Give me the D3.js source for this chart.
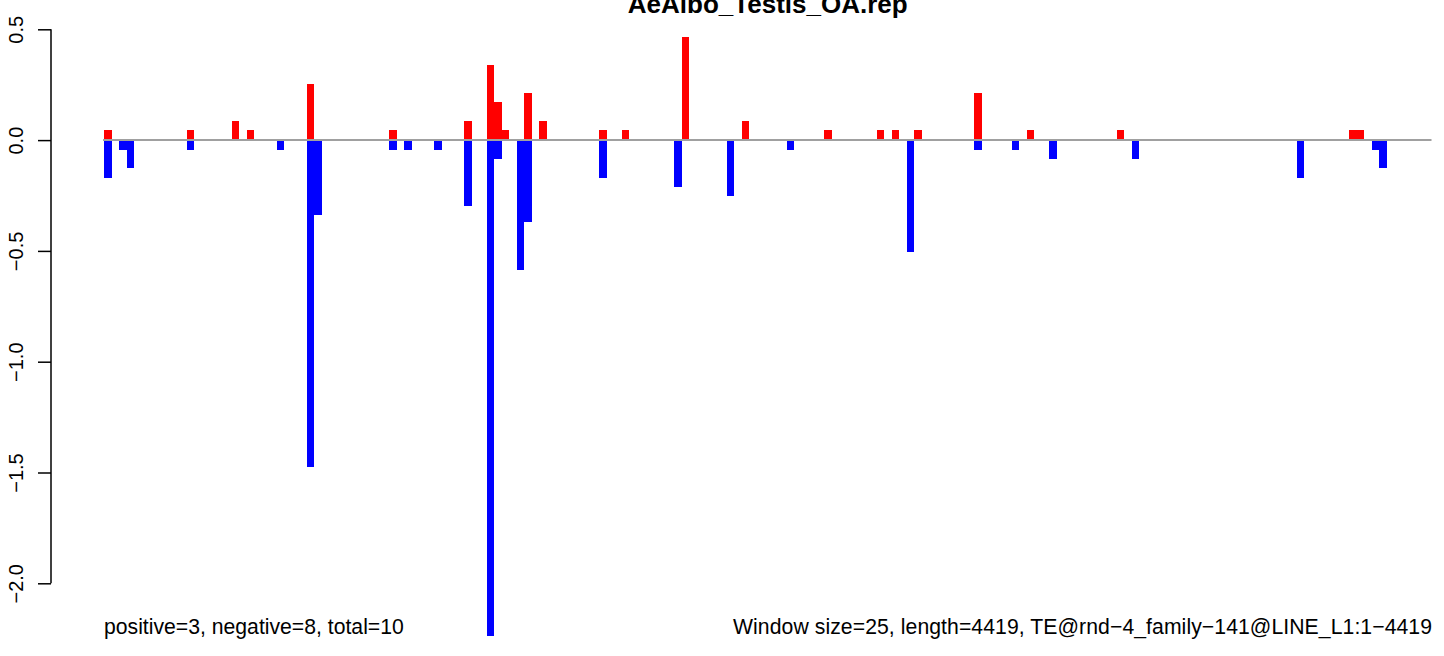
<!DOCTYPE html>
<html>
<head>
<meta charset="utf-8">
<script src="https://cdn.jsdelivr.net/npm/d3@7"></script>
<style>
  html, body { margin: 0; padding: 0; background: #fff; }
  svg { display: block; }
  text { font-family: "Liberation Sans", Arial, Helvetica, sans-serif; fill: #000; }
</style>
</head>
<body>
<svg id="chart" width="1444" height="656"></svg>
<script>
// ---- data ----
const title = "AeAlbo_Testis_OA.rep";
const windowSize = 25;
const seqLength = 4419;
const leftNote = "positive=3, negative=8, total=10";
const rightNote = "Window size=25, length=4419, TE@rnd\u22124_family\u2212141@LINE_L1:1\u22124419";

// window indices (0-based) that carry a positive (red) value
const posWindows = [0, 11, 17, 19, 27, 38, 48, 51, 52, 53, 56, 58, 66, 69, 77, 85, 96, 103, 105, 108, 116, 123, 135, 166, 167];
const posValues  = [0.045, 0.045, 0.086, 0.045, 0.253, 0.045, 0.086, 0.339, 0.172, 0.045, 0.212, 0.086, 0.045, 0.045, 0.465, 0.086, 0.045, 0.045, 0.045, 0.045, 0.212, 0.045, 0.045, 0.045, 0.045];

// window indices (0-based) that carry a negative (blue) value
const negWindows = [0, 2, 3, 11, 23, 27, 28, 38, 40, 44, 48, 51, 52, 55, 56, 66, 76, 83, 91, 107, 116, 121, 126, 137, 159, 169, 170];
const negValues  = [-0.172, -0.045, -0.126, -0.045, -0.045, -1.476, -0.339, -0.045, -0.045, -0.045, -0.296, -2.236, -0.086, -0.587, -0.370, -0.170, -0.211, -0.252, -0.045, -0.505, -0.045, -0.045, -0.086, -0.086, -0.172, -0.045, -0.126];

const yTicks = [0.5, 0.0, -0.5, -1.0, -1.5, -2.0];
const yTickLabels = ["0.5", "0.0", "\u22120.5", "\u22121.0", "\u22121.5", "\u22122.0"];

// ---- layout ----
const svg = d3.select("#chart");
const nWindows = Math.ceil(seqLength / windowSize);
const x = d3.scaleLinear().domain([0, nWindows * windowSize]).range([104, 1431.5]);
const y = d3.scaleLinear().domain([0.5, -2.0]).range([29.3, 583.3]);

const posData = posWindows.map((w, i) => ({ w, v: posValues[i] }));
const negData = negWindows.map((w, i) => ({ w, v: negValues[i] }));

svg.append("g").attr("shape-rendering", "crispEdges")
  .selectAll("rect").data(posData).join("rect")
  .attr("x", d => x(d.w * windowSize))
  .attr("width", d => x((d.w + 1) * windowSize) - x(d.w * windowSize))
  .attr("y", d => y(d.v))
  .attr("height", d => y(0) - y(d.v))
  .attr("fill", "#ff0000");

svg.append("g").attr("shape-rendering", "crispEdges")
  .selectAll("rect").data(negData).join("rect")
  .attr("x", d => x(d.w * windowSize))
  .attr("width", d => x((d.w + 1) * windowSize) - x(d.w * windowSize))
  .attr("y", y(0))
  .attr("height", d => y(d.v) - y(0))
  .attr("fill", "#0000ff");

// zero line
svg.append("line")
  .attr("x1", x(0) - 1).attr("x2", x(nWindows * windowSize))
  .attr("y1", y(0)).attr("y2", y(0))
  .attr("stroke", "#a0a0a0").attr("stroke-width", 2);

// y axis
const yAxis = d3.axisLeft(y).tickValues(yTicks).tickSize(13).tickPadding(0)
  .tickFormat((d, i) => yTickLabels[i]);
const gy = svg.append("g").attr("transform", "translate(51,0)").call(yAxis);
gy.select(".domain").attr("d", `M0,${y(0.5)}V${y(-2.0)}`).attr("stroke", "#000").attr("stroke-width", 1.5);
gy.selectAll(".tick line").attr("stroke", "#000").attr("stroke-width", 1.5);
gy.selectAll(".tick text")
  .attr("font-size", 20)
  .attr("font-family", "Liberation Sans, Arial, sans-serif")
  .attr("fill", "#000")
  .attr("text-anchor", "middle")
  .attr("dy", null)
  .attr("x", null)
  .attr("transform", "translate(-28,0) rotate(-90)");

// title
svg.append("text")
  .attr("x", (x(0) + x(nWindows * windowSize)) / 2)
  .attr("y", 13)
  .attr("text-anchor", "middle")
  .attr("font-size", 26)
  .attr("font-weight", "bold")
  .text(title);

// notes
svg.append("text")
  .attr("x", x(0))
  .attr("y", 634)
  .attr("font-size", 21.2)
  .text(leftNote);

svg.append("text")
  .attr("x", 1432)
  .attr("y", 634)
  .attr("text-anchor", "end")
  .attr("font-size", 21.2)
  .attr("textLength", 699)
  .attr("lengthAdjust", "spacing")
  .text(rightNote);
</script>
</body>
</html>
